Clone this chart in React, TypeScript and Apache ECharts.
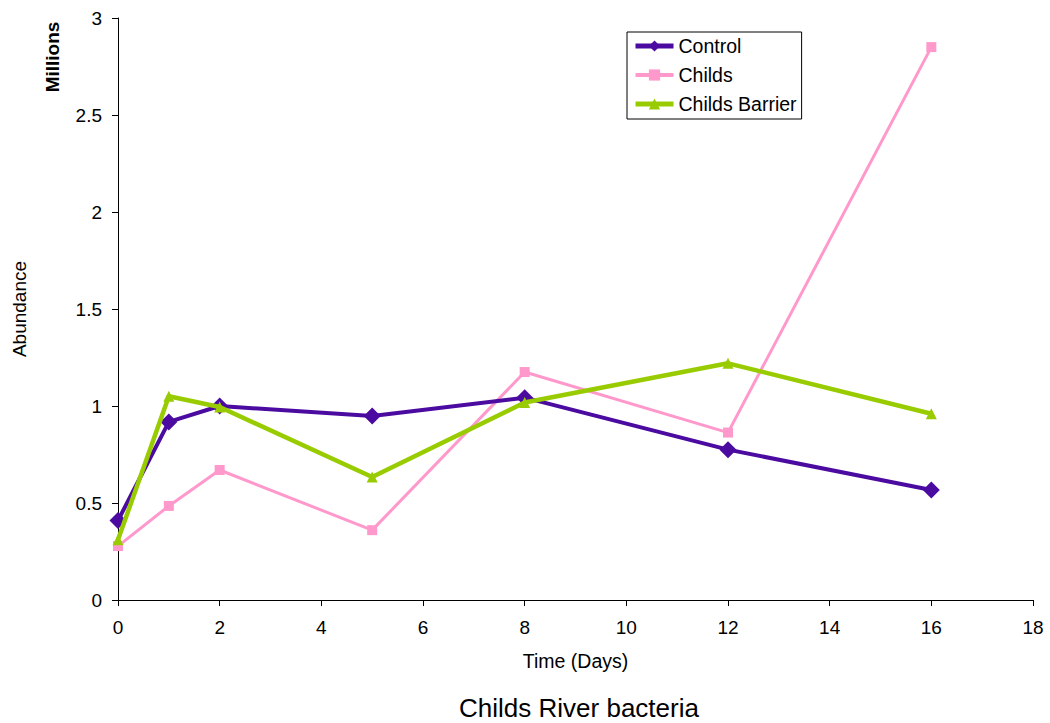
import React, { useEffect, useRef } from "react";
import * as echarts from "echarts";

const days = [0, 1, 2, 5, 8, 12, 16];
const control = [0.41, 0.918, 1.0, 0.948, 1.043, 0.775, 0.567];
const childs = [0.278, 0.485, 0.67, 0.36, 1.175, 0.863, 2.85];
const childsBarrier = [0.31, 1.05, 0.995, 0.634, 1.018, 1.22, 0.96];
const seriesNames = ["Control", "Childs", "Childs Barrier"];
const legendLineWidths = [5, 4, 5];

const pair = (vals: number[]) => days.map((d, i) => [d, vals[i]]);

export default function App() {
  const ref = useRef<HTMLDivElement>(null);
  useEffect(() => {
    const chart = echarts.init(ref.current!, null, { renderer: "svg" });
    const font = "Liberation Sans, Arial, sans-serif";
    chart.setOption({
      animation: false,
      textStyle: { fontFamily: font },
      grid: { left: 118, right: 17, top: 18, bottom: 123, containLabel: false },
      legend: {
        orient: "vertical",
        left: 627,
        top: 32,
        padding: [4, 5, 5, 6],
        itemGap: 9,
        itemWidth: 38,
        itemHeight: 14,
        borderColor: "#000",
        borderWidth: 1,
        data: seriesNames.map((n, i) => ({ name: n, lineStyle: { width: legendLineWidths[i] } })),
        textStyle: { fontSize: 19.5, color: "#000", fontFamily: font },
      },
      xAxis: {
        type: "value",
        min: 0,
        max: 18,
        interval: 2,
        name: "Time (Days)",
        nameLocation: "middle",
        nameGap: 51,
        nameTextStyle: { fontSize: 19.5, color: "#000" },
        axisLine: { show: true, onZero: false, lineStyle: { color: "#000" } },
        axisTick: { show: true, inside: false, length: 6, lineStyle: { color: "#000" } },
        axisLabel: { fontSize: 19, color: "#000", margin: 18 },
        splitLine: { show: false },
      },
      yAxis: {
        type: "value",
        min: 0,
        max: 3,
        interval: 0.5,
        name: "Abundance",
        nameLocation: "middle",
        nameGap: 89,
        nameTextStyle: { fontSize: 19, color: "#000" },
        axisLine: { show: true, lineStyle: { color: "#000" } },
        axisTick: { show: true, inside: false, length: 6, lineStyle: { color: "#000" } },
        axisLabel: { fontSize: 19, color: "#000", margin: 16 },
        splitLine: { show: false },
      },
      graphic: [
        {
          type: "text",
          x: 52,
          y: 57,
          rotation: Math.PI / 2,
          style: {
            text: "Millions",
            fontSize: 19,
            fontWeight: "bold",
            fill: "#000",
            fontFamily: font,
            textAlign: "center",
            textVerticalAlign: "middle",
          },
        },
        {
          type: "text",
          x: 579,
          y: 708,
          style: {
            text: "Childs River bacteria",
            fontSize: 26,
            fill: "#000",
            fontFamily: font,
            textAlign: "center",
            textVerticalAlign: "middle",
          },
        },
      ],
      series: [
        {
          name: "Control",
          type: "line",
          data: pair(control),
          symbol: "diamond",
          symbolSize: 17,
          lineStyle: { width: 4, color: "#4b0aa0" },
          itemStyle: { color: "#4b0aa0" },
          z: 3,
        },
        {
          name: "Childs",
          type: "line",
          data: pair(childs),
          symbol: "rect",
          symbolSize: 10,
          lineStyle: { width: 3, color: "#ff99cc" },
          itemStyle: { color: "#ff99cc" },
          z: 2,
        },
        {
          name: "Childs Barrier",
          type: "line",
          data: pair(childsBarrier),
          symbol: "triangle",
          symbolSize: 11,
          lineStyle: { width: 4.5, color: "#99cc00" },
          itemStyle: { color: "#99cc00" },
          z: 4,
        },
      ],
    });
    return () => chart.dispose();
  }, []);
  return <div ref={ref} style={{ width: 1050, height: 723, position: "absolute", left: 0, top: 0 }} />;
}
